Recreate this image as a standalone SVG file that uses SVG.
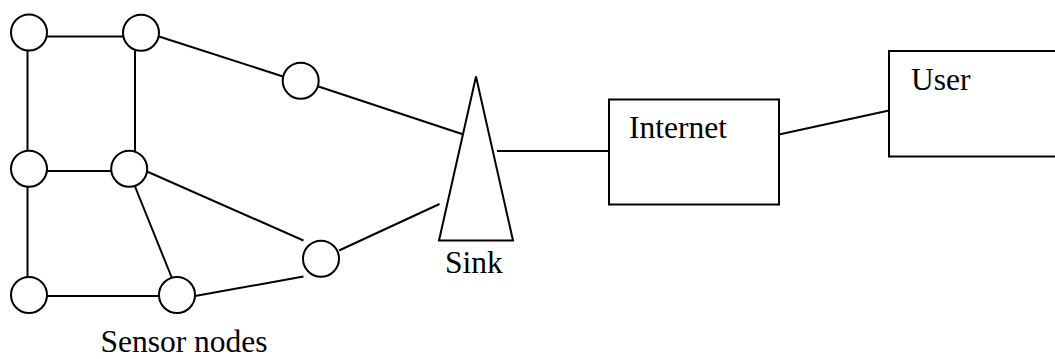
<svg xmlns="http://www.w3.org/2000/svg" width="1055" height="359" viewBox="0 0 1055 359">
  <style>
    .node { fill: #fff; stroke: #000; stroke-width: 2; }
    .link { stroke: #000; stroke-width: 2; fill: none; }
    .label { font-family: "Liberation Serif", "Times New Roman", serif; font-size: 31.5px; fill: #000; }
  </style>
  <rect width="1055" height="359" fill="#fff"/>

  <!-- connectors -->
  <g id="connectors">
    <line class="link" x1="47" y1="36.5" x2="123" y2="36.5"/>
    <line class="link" x1="27.5" y1="51" x2="27.5" y2="151"/>
    <line class="link" x1="135" y1="51" x2="135" y2="151"/>
    <line class="link" x1="159" y1="36.5" x2="283" y2="76.5"/>
    <line class="link" x1="318.5" y1="86.5" x2="465" y2="135"/>
    <line class="link" x1="47" y1="171" x2="111" y2="171"/>
    <line class="link" x1="27.5" y1="186.5" x2="27.5" y2="277"/>
    <line class="link" x1="147" y1="171.5" x2="303.5" y2="240.5"/>
    <line class="link" x1="135" y1="186.5" x2="171.5" y2="277"/>
    <line class="link" x1="47" y1="296" x2="159" y2="296"/>
    <line class="link" x1="195" y1="296" x2="303.5" y2="276.5"/>
    <line class="link" x1="339" y1="250.5" x2="439.5" y2="204"/>
    <line class="link" x1="497" y1="151" x2="609" y2="151"/>
    <line class="link" x1="779" y1="134.5" x2="889" y2="110.5"/>
  </g>

  <!-- sensor nodes -->
  <g id="sensor-1"><circle class="node" cx="29" cy="32.5" r="18"/></g>
  <g id="sensor-2"><circle class="node" cx="141" cy="32.8" r="18"/></g>
  <g id="sensor-3"><circle class="node" cx="300.7" cy="80.7" r="18"/></g>
  <g id="sensor-4"><circle class="node" cx="29" cy="168.7" r="18"/></g>
  <g id="sensor-5"><circle class="node" cx="129.2" cy="168.7" r="18"/></g>
  <g id="sensor-6"><circle class="node" cx="321" cy="258.7" r="18"/></g>
  <g id="sensor-7"><circle class="node" cx="29" cy="295" r="18"/></g>
  <g id="sensor-8"><circle class="node" cx="177" cy="295" r="18"/></g>
  <g id="sensor-label"><text class="label" x="100.5" y="352">Sensor nodes</text></g>

  <!-- sink -->
  <g id="sink">
    <polygon class="node" points="476,76.5 439,240.5 513,240.5"/>
    <text class="label" x="445" y="273">Sink</text>
  </g>

  <!-- internet -->
  <g id="internet">
    <rect class="node" x="609" y="99.5" width="170" height="105"/>
    <text class="label" x="629" y="138">Internet</text>
  </g>

  <!-- user -->
  <g id="user">
    <rect class="node" x="889" y="51" width="180" height="105.5"/>
    <text class="label" x="911" y="90">User</text>
  </g>
</svg>
